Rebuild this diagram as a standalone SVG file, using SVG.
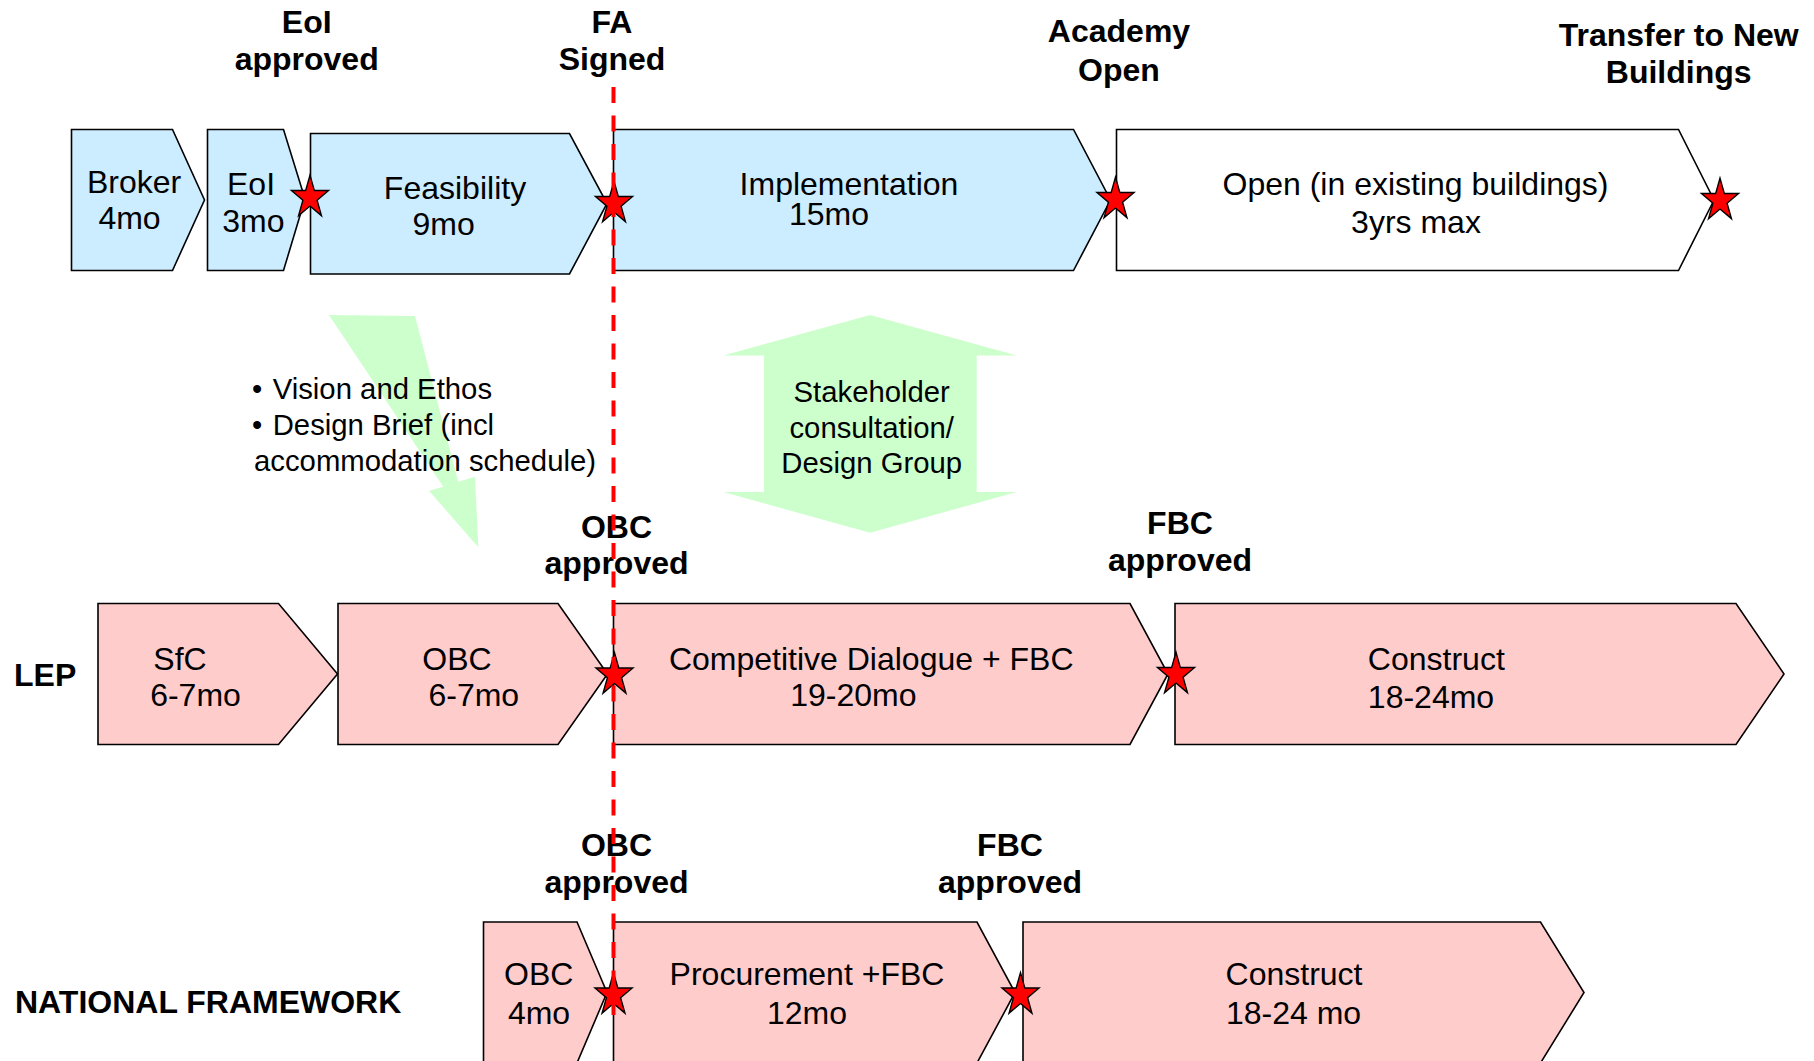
<svg xmlns="http://www.w3.org/2000/svg" xmlns:xlink="http://www.w3.org/1999/xlink" width="1814" height="1061" viewBox="0 0 1814 1061">
<style>
.t{font-family:"Liberation Sans",Arial,sans-serif;font-size:32px;fill:#000;text-anchor:middle}
.b{font-family:"Liberation Sans",Arial,sans-serif;font-size:32px;font-weight:bold;fill:#000;text-anchor:middle}
.bl{font-family:"Liberation Sans",Arial,sans-serif;font-size:32px;font-weight:bold;fill:#000;text-anchor:start}
.s{font-family:"Liberation Sans",Arial,sans-serif;font-size:29.3px;fill:#000}
.sc{font-family:"Liberation Sans",Arial,sans-serif;font-size:29.3px;fill:#000;text-anchor:middle}
.blue{fill:#CCECFF;stroke:#000;stroke-width:1.6}
.pink{fill:#FFCCCC;stroke:#000;stroke-width:1.6}
.white{fill:#FFFFFF;stroke:#000;stroke-width:1.6}
.green{fill:#CCFFCC;stroke:none}
.dash{stroke:#FF0000;stroke-width:4;stroke-dasharray:16 12.5;fill:none}
</style>
<defs>
<path id="star" d="M0,-22.4 L4.38,-6.93 L18.55,-6.93 L7.09,2.65 L11.46,18.14 L0,8.57 L-11.46,18.14 L-7.09,2.65 L-18.55,-6.93 L-4.38,-6.93 Z" fill="#FF0000" stroke="#000" stroke-width="1.4" stroke-linejoin="miter"/>
</defs>
<rect width="1814" height="1061" fill="#FFFFFF"/>

<g id="connectors">
<polygon id="arrow-brief" class="green" points="329,315 415,316 458.3,481.7 475,476.7 478.3,547.3 429,490.7 443.3,486.7"/>
<polygon id="arrow-stakeholder" class="green" points="870,315 1016.7,355.5 976.7,355.5 976.7,492 1016.7,492 870,532.7 723.3,492 764,492 764,355.5 723.3,355.5"/>
</g>

<g id="node-broker"><polygon class="blue" points="71.5,129.5 172.5,129.5 204.5,200 172.5,270.5 71.5,270.5"/>
<text class="t" x="134" y="193">Broker</text><text class="t" x="129.5" y="229">4mo</text></g>
<g id="node-eoi"><polygon class="blue" points="207.5,129.5 283.5,129.5 305,199 283.5,270.5 207.5,270.5"/>
<text class="t" x="251" y="195">EoI</text><text class="t" x="253.3" y="231.5">3mo</text></g>
<g id="node-feasibility"><polygon class="blue" points="310.5,133.5 569.5,133.5 607,203.5 569.5,274 310.5,274"/>
<text class="t" x="455" y="198.5">Feasibility</text><text class="t" x="443.7" y="234.5">9mo</text></g>
<g id="node-implementation"><polygon class="blue" points="613.5,129.5 1073.5,129.5 1110.5,200 1073.5,270.5 613.5,270.5"/>
<text class="t" x="849" y="195">Implementation</text><text class="t" x="829" y="225">15mo</text></g>
<g id="node-open"><polygon class="white" points="1116.5,129.5 1678.5,129.5 1714,200 1678.5,270.5 1116.5,270.5"/>
<text class="t" x="1415.5" y="195">Open (in existing buildings)</text><text class="t" x="1416" y="233">3yrs max</text></g>

<g id="node-sfc"><polygon class="pink" points="98,603.5 278.5,603.5 337.5,674 278.5,744.5 98,744.5"/>
<text class="t" x="180" y="670">SfC</text><text class="t" x="195.5" y="705.5">6-7mo</text></g>
<g id="node-lep-obc"><polygon class="pink" points="338,603.5 558,603.5 607.5,674 558,744.5 338,744.5"/>
<text class="t" x="457" y="670">OBC</text><text class="t" x="473.8" y="705.5">6-7mo</text></g>
<g id="node-competitive"><polygon class="pink" points="613.5,603.5 1130,603.5 1168,674 1130,744.5 613.5,744.5"/>
<text class="t" x="871.2" y="670">Competitive Dialogue + FBC</text><text class="t" x="853.3" y="705.5">19-20mo</text></g>
<g id="node-lep-construct"><polygon class="pink" points="1175,603.5 1736,603.5 1784,674 1736,744.5 1175,744.5"/>
<text class="t" x="1436.3" y="670">Construct</text><text class="t" x="1431" y="708">18-24mo</text></g>

<g id="node-nf-obc"><polygon class="pink" points="483.5,922 577,922 607,992.5 577,1063 483.5,1063"/>
<text class="t" x="538.7" y="985">OBC</text><text class="t" x="539" y="1024">4mo</text></g>
<g id="node-procurement"><polygon class="pink" points="613.5,922 977,922 1015,992.5 977,1063 613.5,1063"/>
<text class="t" x="807" y="985">Procurement +FBC</text><text class="t" x="807" y="1024">12mo</text></g>
<g id="node-nf-construct"><polygon class="pink" points="1023,922 1540.5,922 1584,992.5 1540.5,1063 1023,1063"/>
<text class="t" x="1294" y="985">Construct</text><text class="t" x="1293.5" y="1024">18-24 mo</text></g>

<g id="node-brief-text">
<text class="s" x="252" y="398.5">•</text><text class="s" x="272.7" y="398.5">Vision and Ethos</text>
<text class="s" x="252" y="435">•</text><text class="s" x="272.7" y="435">Design Brief (incl</text>
<text class="s" x="254" y="471">accommodation schedule)</text>
</g>
<g id="node-stakeholder-text">
<text class="sc" x="871.7" y="401.7">Stakeholder</text>
<text class="sc" x="871.7" y="437.7">consultation/</text>
<text class="sc" x="871.7" y="472.7">Design Group</text>
</g>

<g id="labels">
<text class="b" x="306.7" y="33">EoI</text><text class="b" x="306.7" y="70">approved</text>
<text class="b" x="612" y="33">FA</text><text class="b" x="612" y="69.5">Signed</text>
<text class="b" x="1119" y="42">Academy</text><text class="b" x="1119" y="81">Open</text>
<text class="b" x="1678.7" y="45.5">Transfer to New</text><text class="b" x="1678.7" y="83">Buildings</text>
<text class="b" x="616.5" y="537.5">OBC</text><text class="b" x="616.5" y="574">approved</text>
<text class="b" x="1180" y="534">FBC</text><text class="b" x="1180" y="571">approved</text>
<text class="b" x="616.5" y="856">OBC</text><text class="b" x="616.5" y="893">approved</text>
<text class="b" x="1010" y="856">FBC</text><text class="b" x="1010" y="893">approved</text>
<text class="bl" x="14" y="685.5">LEP</text>
<text class="bl" x="15" y="1013">NATIONAL FRAMEWORK</text>
</g>

<g id="milestones">
<use xlink:href="#star" x="310" y="197.5"/>
<use xlink:href="#star" x="614" y="203.5"/>
<use xlink:href="#star" x="1115.5" y="199.5"/>
<use xlink:href="#star" x="1720" y="200.5"/>
<use xlink:href="#star" x="614.5" y="675"/>
<use xlink:href="#star" x="1176" y="674.5"/>
<use xlink:href="#star" x="613.5" y="995"/>
<use xlink:href="#star" x="1020.5" y="995"/>
</g>

<g id="fa-line">
<line class="dash" x1="613.5" y1="87" x2="613.5" y2="1017"/>
</g>
</svg>
